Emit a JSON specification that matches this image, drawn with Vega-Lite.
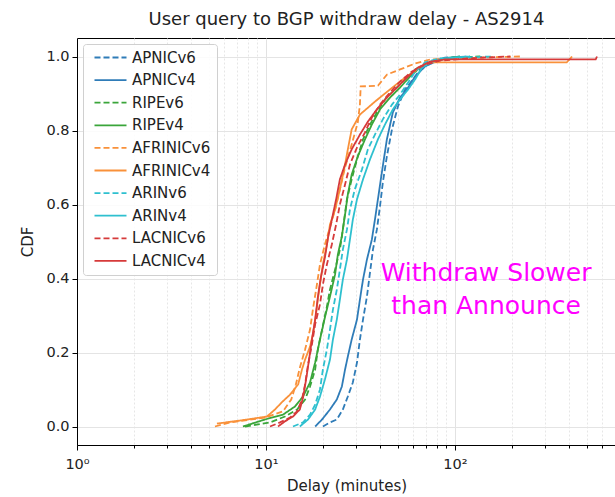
{
  "$schema": "https://vega.github.io/schema/vega-lite/v6.json",
  "autosize": {"type": "none"},
  "padding": {"left": 77, "top": 38, "right": 0, "bottom": 52},
  "width": 539,
  "height": 407,
  "background": "white",
  "title": {"text": "User query to BGP withdraw delay - AS2914", "fontSize": 18, "fontWeight": "normal", "font": "DejaVu Sans", "color": "#222", "offset": 9, "anchor": "middle"},
  "datasets": {
    "cdf": [
      {"series":"APNICv6","delay":20.0,"cdf":0},{"series":"APNICv6","delay":21.8,"cdf":0.011},{"series":"APNICv6","delay":23.7,"cdf":0.019},{"series":"APNICv6","delay":25.5,"cdf":0.046},{"series":"APNICv6","delay":27.1,"cdf":0.081},{"series":"APNICv6","delay":28.8,"cdf":0.119},{"series":"APNICv6","delay":30.3,"cdf":0.173},{"series":"APNICv6","delay":31.4,"cdf":0.235},{"series":"APNICv6","delay":32.6,"cdf":0.289},{"series":"APNICv6","delay":34.2,"cdf":0.351},{"series":"APNICv6","delay":35.5,"cdf":0.416},{"series":"APNICv6","delay":36.8,"cdf":0.478},{"series":"APNICv6","delay":38.6,"cdf":0.532},{"series":"APNICv6","delay":40.1,"cdf":0.595},{"series":"APNICv6","delay":41.5,"cdf":0.659},{"series":"APNICv6","delay":43.6,"cdf":0.730},{"series":"APNICv6","delay":46.4,"cdf":0.803},{"series":"APNICv6","delay":49.9,"cdf":0.865},{"series":"APNICv6","delay":54.4,"cdf":0.911},{"series":"APNICv6","delay":60.0,"cdf":0.938},{"series":"APNICv6","delay":65.3,"cdf":0.965},{"series":"APNICv6","delay":73.8,"cdf":0.986},{"series":"APNICv6","delay":88.5,"cdf":0.997},{"series":"APNICv6","delay":120,"cdf":1.0},
      {"series":"APNICv4","delay":18.2,"cdf":0},{"series":"APNICv4","delay":19.8,"cdf":0.019},{"series":"APNICv4","delay":21.8,"cdf":0.046},{"series":"APNICv4","delay":23.7,"cdf":0.073},{"series":"APNICv4","delay":25.2,"cdf":0.108},{"series":"APNICv4","delay":26.2,"cdf":0.154},{"series":"APNICv4","delay":27.1,"cdf":0.189},{"series":"APNICv4","delay":28.4,"cdf":0.235},{"series":"APNICv4","delay":30.3,"cdf":0.289},{"series":"APNICv4","delay":31.4,"cdf":0.343},{"series":"APNICv4","delay":32.6,"cdf":0.397},{"series":"APNICv4","delay":34.2,"cdf":0.451},{"series":"APNICv4","delay":36.3,"cdf":0.505},{"series":"APNICv4","delay":37.7,"cdf":0.559},{"series":"APNICv4","delay":39.1,"cdf":0.614},{"series":"APNICv4","delay":41.0,"cdf":0.686},{"series":"APNICv4","delay":43.6,"cdf":0.776},{"series":"APNICv4","delay":46.9,"cdf":0.849},{"series":"APNICv4","delay":51.2,"cdf":0.889},{"series":"APNICv4","delay":55.7,"cdf":0.911},{"series":"APNICv4","delay":61.5,"cdf":0.946},{"series":"APNICv4","delay":69.4,"cdf":0.973},{"series":"APNICv4","delay":83.3,"cdf":0.992},{"series":"APNICv4","delay":106,"cdf":1.0},
      {"series":"RIPEv6","delay":7.74,"cdf":0},{"series":"RIPEv6","delay":10.5,"cdf":0.011},{"series":"RIPEv6","delay":12.6,"cdf":0.027},{"series":"RIPEv6","delay":14.6,"cdf":0.046},{"series":"RIPEv6","delay":16.1,"cdf":0.073},{"series":"RIPEv6","delay":17.1,"cdf":0.108},{"series":"RIPEv6","delay":18.2,"cdf":0.154},{"series":"RIPEv6","delay":18.8,"cdf":0.208},{"series":"RIPEv6","delay":19.8,"cdf":0.262},{"series":"RIPEv6","delay":21.0,"cdf":0.324},{"series":"RIPEv6","delay":21.8,"cdf":0.370},{"series":"RIPEv6","delay":23.2,"cdf":0.424},{"series":"RIPEv6","delay":24.6,"cdf":0.478},{"series":"RIPEv6","delay":25.5,"cdf":0.532},{"series":"RIPEv6","delay":26.8,"cdf":0.614},{"series":"RIPEv6","delay":28.4,"cdf":0.668},{"series":"RIPEv6","delay":30.3,"cdf":0.722},{"series":"RIPEv6","delay":32.6,"cdf":0.776},{"series":"RIPEv6","delay":35.5,"cdf":0.816},{"series":"RIPEv6","delay":38.6,"cdf":0.849},{"series":"RIPEv6","delay":42.6,"cdf":0.884},{"series":"RIPEv6","delay":48.1,"cdf":0.911},{"series":"RIPEv6","delay":54.4,"cdf":0.938},{"series":"RIPEv6","delay":61.5,"cdf":0.965},{"series":"RIPEv6","delay":73.8,"cdf":0.986},{"series":"RIPEv6","delay":94.1,"cdf":0.997},{"series":"RIPEv6","delay":136,"cdf":1.0},
      {"series":"RIPEv4","delay":7.55,"cdf":0},{"series":"RIPEv4","delay":9.88,"cdf":0.019},{"series":"RIPEv4","delay":12.3,"cdf":0.032},{"series":"RIPEv4","delay":14.23,"cdf":0.054},{"series":"RIPEv4","delay":15.7,"cdf":0.081},{"series":"RIPEv4","delay":17.1,"cdf":0.119},{"series":"RIPEv4","delay":18.2,"cdf":0.173},{"series":"RIPEv4","delay":19.3,"cdf":0.235},{"series":"RIPEv4","delay":20.5,"cdf":0.295},{"series":"RIPEv4","delay":21.8,"cdf":0.351},{"series":"RIPEv4","delay":23.2,"cdf":0.411},{"series":"RIPEv4","delay":24.0,"cdf":0.465},{"series":"RIPEv4","delay":25.2,"cdf":0.514},{"series":"RIPEv4","delay":26.2,"cdf":0.573},{"series":"RIPEv4","delay":27.1,"cdf":0.627},{"series":"RIPEv4","delay":28.4,"cdf":0.681},{"series":"RIPEv4","delay":30.6,"cdf":0.730},{"series":"RIPEv4","delay":33.4,"cdf":0.776},{"series":"RIPEv4","delay":36.3,"cdf":0.816},{"series":"RIPEv4","delay":40.1,"cdf":0.857},{"series":"RIPEv4","delay":45.3,"cdf":0.889},{"series":"RIPEv4","delay":51.2,"cdf":0.916},{"series":"RIPEv4","delay":57.8,"cdf":0.946},{"series":"RIPEv4","delay":65.3,"cdf":0.970},{"series":"RIPEv4","delay":78.4,"cdf":0.989},{"series":"RIPEv4","delay":106,"cdf":1.0},
      {"series":"AFRINICv6","delay":5.37,"cdf":0},{"series":"AFRINICv6","delay":6.45,"cdf":0.011},{"series":"AFRINICv6","delay":9.88,"cdf":0.024},{"series":"AFRINICv6","delay":12.3,"cdf":0.041},{"series":"AFRINICv6","delay":13.6,"cdf":0.073},{"series":"AFRINICv6","delay":14.4,"cdf":0.114},{"series":"AFRINICv6","delay":15.1,"cdf":0.159},{"series":"AFRINICv6","delay":16.1,"cdf":0.208},{"series":"AFRINICv6","delay":17.1,"cdf":0.262},{"series":"AFRINICv6","delay":17.7,"cdf":0.316},{"series":"AFRINICv6","delay":18.6,"cdf":0.384},{"series":"AFRINICv6","delay":19.3,"cdf":0.438},{"series":"AFRINICv6","delay":20.5,"cdf":0.492},{"series":"AFRINICv6","delay":21.8,"cdf":0.538},{"series":"AFRINICv6","delay":23.2,"cdf":0.586},{"series":"AFRINICv6","delay":24.6,"cdf":0.641},{"series":"AFRINICv6","delay":26.2,"cdf":0.700},{"series":"AFRINICv6","delay":28.4,"cdf":0.762},{"series":"AFRINICv6","delay":30.6,"cdf":0.822},{"series":"AFRINICv6","delay":31.4,"cdf":0.870},{"series":"AFRINICv6","delay":31.7,"cdf":0.919},{"series":"AFRINICv6","delay":39.1,"cdf":0.921},{"series":"AFRINICv6","delay":43.6,"cdf":0.951},{"series":"AFRINICv6","delay":51.2,"cdf":0.965},{"series":"AFRINICv6","delay":61.5,"cdf":0.981},{"series":"AFRINICv6","delay":73.8,"cdf":0.992},{"series":"AFRINICv6","delay":136,"cdf":0.997},{"series":"AFRINICv6","delay":221,"cdf":1.0},
      {"series":"AFRINICv4","delay":5.50,"cdf":0.008},{"series":"AFRINICv4","delay":7.28,"cdf":0.016},{"series":"AFRINICv4","delay":10.12,"cdf":0.027},{"series":"AFRINICv4","delay":11.16,"cdf":0.046},{"series":"AFRINICv4","delay":12.1,"cdf":0.065},{"series":"AFRINICv4","delay":13.39,"cdf":0.086},{"series":"AFRINICv4","delay":14.8,"cdf":0.114},{"series":"AFRINICv4","delay":15.5,"cdf":0.154},{"series":"AFRINICv4","delay":16.1,"cdf":0.181},{"series":"AFRINICv4","delay":17.1,"cdf":0.216},{"series":"AFRINICv4","delay":17.7,"cdf":0.249},{"series":"AFRINICv4","delay":18.4,"cdf":0.303},{"series":"AFRINICv4","delay":18.8,"cdf":0.343},{"series":"AFRINICv4","delay":19.3,"cdf":0.384},{"series":"AFRINICv4","delay":20.0,"cdf":0.438},{"series":"AFRINICv4","delay":21.0,"cdf":0.492},{"series":"AFRINICv4","delay":21.8,"cdf":0.546},{"series":"AFRINICv4","delay":23.2,"cdf":0.586},{"series":"AFRINICv4","delay":24.6,"cdf":0.641},{"series":"AFRINICv4","delay":26.2,"cdf":0.708},{"series":"AFRINICv4","delay":27.1,"cdf":0.749},{"series":"AFRINICv4","delay":28.4,"cdf":0.803},{"series":"AFRINICv4","delay":31.4,"cdf":0.843},{"series":"AFRINICv4","delay":37.7,"cdf":0.878},{"series":"AFRINICv4","delay":45.3,"cdf":0.911},{"series":"AFRINICv4","delay":54.4,"cdf":0.943},{"series":"AFRINICv4","delay":65.3,"cdf":0.970},{"series":"AFRINICv4","delay":73.8,"cdf":0.984},{"series":"AFRINICv4","delay":390,"cdf":0.984},{"series":"AFRINICv4","delay":416,"cdf":1.0},
      {"series":"ARINv6","delay":13.89,"cdf":0},{"series":"ARINv6","delay":15.7,"cdf":0.011},{"series":"ARINv6","delay":17.1,"cdf":0.032},{"series":"ARINv6","delay":18.2,"cdf":0.059},{"series":"ARINv6","delay":19.3,"cdf":0.1},{"series":"ARINv6","delay":20.0,"cdf":0.154},{"series":"ARINv6","delay":21.0,"cdf":0.208},{"series":"ARINv6","delay":21.8,"cdf":0.262},{"series":"ARINv6","delay":22.6,"cdf":0.316},{"series":"ARINv6","delay":23.7,"cdf":0.370},{"series":"ARINv6","delay":24.6,"cdf":0.424},{"series":"ARINv6","delay":25.5,"cdf":0.478},{"series":"ARINv6","delay":26.8,"cdf":0.532},{"series":"ARINv6","delay":27.8,"cdf":0.586},{"series":"ARINv6","delay":29.5,"cdf":0.641},{"series":"ARINv6","delay":32.2,"cdf":0.695},{"series":"ARINv6","delay":34.6,"cdf":0.749},{"series":"ARINv6","delay":37.7,"cdf":0.789},{"series":"ARINv6","delay":41.5,"cdf":0.830},{"series":"ARINv6","delay":46.4,"cdf":0.870},{"series":"ARINv6","delay":51.2,"cdf":0.897},{"series":"ARINv6","delay":56.5,"cdf":0.930},{"series":"ARINv6","delay":61.5,"cdf":0.959},{"series":"ARINv6","delay":69.4,"cdf":0.984},{"series":"ARINv6","delay":83.3,"cdf":0.995},{"series":"ARINv6","delay":158,"cdf":1.0},
      {"series":"ARINv4","delay":15.1,"cdf":0},{"series":"ARINv4","delay":16.7,"cdf":0.019},{"series":"ARINv4","delay":18.2,"cdf":0.046},{"series":"ARINv4","delay":19.3,"cdf":0.081},{"series":"ARINv4","delay":20.5,"cdf":0.127},{"series":"ARINv4","delay":21.8,"cdf":0.181},{"series":"ARINv4","delay":22.6,"cdf":0.235},{"series":"ARINv4","delay":23.7,"cdf":0.289},{"series":"ARINv4","delay":24.6,"cdf":0.343},{"series":"ARINv4","delay":25.5,"cdf":0.397},{"series":"ARINv4","delay":26.8,"cdf":0.451},{"series":"ARINv4","delay":27.8,"cdf":0.505},{"series":"ARINv4","delay":28.8,"cdf":0.559},{"series":"ARINv4","delay":30.3,"cdf":0.614},{"series":"ARINv4","delay":32.6,"cdf":0.668},{"series":"ARINv4","delay":35.5,"cdf":0.722},{"series":"ARINv4","delay":39.1,"cdf":0.776},{"series":"ARINv4","delay":42.6,"cdf":0.816},{"series":"ARINv4","delay":46.9,"cdf":0.857},{"series":"ARINv4","delay":51.2,"cdf":0.884},{"series":"ARINv4","delay":56.5,"cdf":0.911},{"series":"ARINv4","delay":61.5,"cdf":0.938},{"series":"ARINv4","delay":66.9,"cdf":0.970},{"series":"ARINv4","delay":75.6,"cdf":0.986},{"series":"ARINv4","delay":94.1,"cdf":0.997},{"series":"ARINv4","delay":120,"cdf":1.0},
      {"series":"LACNICv6","delay":10.5,"cdf":0},{"series":"LACNICv6","delay":11.86,"cdf":0.011},{"series":"LACNICv6","delay":13.39,"cdf":0.024},{"series":"LACNICv6","delay":14.6,"cdf":0.041},{"series":"LACNICv6","delay":15.5,"cdf":0.073},{"series":"LACNICv6","delay":16.1,"cdf":0.114},{"series":"LACNICv6","delay":16.7,"cdf":0.168},{"series":"LACNICv6","delay":17.5,"cdf":0.222},{"series":"LACNICv6","delay":18.2,"cdf":0.276},{"series":"LACNICv6","delay":19.3,"cdf":0.330},{"series":"LACNICv6","delay":20.0,"cdf":0.384},{"series":"LACNICv6","delay":21.0,"cdf":0.438},{"series":"LACNICv6","delay":22.3,"cdf":0.492},{"series":"LACNICv6","delay":23.5,"cdf":0.546},{"series":"LACNICv6","delay":24.6,"cdf":0.600},{"series":"LACNICv6","delay":26.2,"cdf":0.654},{"series":"LACNICv6","delay":27.8,"cdf":0.708},{"series":"LACNICv6","delay":30.3,"cdf":0.754},{"series":"LACNICv6","delay":33.4,"cdf":0.795},{"series":"LACNICv6","delay":36.3,"cdf":0.835},{"series":"LACNICv6","delay":40.1,"cdf":0.870},{"series":"LACNICv6","delay":45.3,"cdf":0.903},{"series":"LACNICv6","delay":51.2,"cdf":0.932},{"series":"LACNICv6","delay":58.9,"cdf":0.959},{"series":"LACNICv6","delay":69.4,"cdf":0.978},{"series":"LACNICv6","delay":83.3,"cdf":0.989},{"series":"LACNICv6","delay":136,"cdf":0.997},{"series":"LACNICv6","delay":196,"cdf":1.0},
      {"series":"LACNICv4","delay":11.58,"cdf":0},{"series":"LACNICv4","delay":12.6,"cdf":0.014},{"series":"LACNICv4","delay":13.89,"cdf":0.027},{"series":"LACNICv4","delay":15.1,"cdf":0.046},{"series":"LACNICv4","delay":15.7,"cdf":0.078},{"series":"LACNICv4","delay":16.3,"cdf":0.127},{"series":"LACNICv4","delay":16.9,"cdf":0.181},{"series":"LACNICv4","delay":17.5,"cdf":0.235},{"series":"LACNICv4","delay":18.2,"cdf":0.289},{"series":"LACNICv4","delay":18.8,"cdf":0.349},{"series":"LACNICv4","delay":19.5,"cdf":0.403},{"series":"LACNICv4","delay":20.5,"cdf":0.457},{"series":"LACNICv4","delay":21.3,"cdf":0.511},{"series":"LACNICv4","delay":22.3,"cdf":0.559},{"series":"LACNICv4","delay":23.5,"cdf":0.614},{"series":"LACNICv4","delay":24.6,"cdf":0.668},{"series":"LACNICv4","delay":26.2,"cdf":0.708},{"series":"LACNICv4","delay":28.4,"cdf":0.749},{"series":"LACNICv4","delay":31.4,"cdf":0.789},{"series":"LACNICv4","delay":34.6,"cdf":0.824},{"series":"LACNICv4","delay":38.6,"cdf":0.857},{"series":"LACNICv4","delay":43.6,"cdf":0.889},{"series":"LACNICv4","delay":49.3,"cdf":0.916},{"series":"LACNICv4","delay":55.7,"cdf":0.943},{"series":"LACNICv4","delay":63.6,"cdf":0.970},{"series":"LACNICv4","delay":73.8,"cdf":0.986},{"series":"LACNICv4","delay":88.5,"cdf":0.992},{"series":"LACNICv4","delay":555,"cdf":0.992},{"series":"LACNICv4","delay":564,"cdf":1.0}
    ],
    "note": [{"label": "Withdraw Slower\nthan Announce", "delay": 146, "cdf": 0.416}]
  },
  "layer": [
    {
      "data": {"name": "cdf"},
      "mark": {"type": "line", "strokeWidth": 1.8, "clip": true},
      "encoding": {
        "x": {
          "field": "delay", "type": "quantitative",
          "scale": {"type": "log", "domain": [1, 711], "nice": false},
          "axis": {
            "values": [1,2,3,4,5,6,7,8,9,10,20,30,40,50,60,70,80,90,100,200,300,400,500,600,700],
            "labelExpr": "datum.value == 1 ? '10⁰' : datum.value == 10 ? '10¹' : datum.value == 100 ? '10²' : ''",
            "labelOverlap": false, "labelFlush": false, "labelPadding": 7,
            "labelFontSize": 14.5,
            "tickSize": {"condition": {"test": "datum.value == 1 || datum.value == 10 || datum.value == 100", "value": 5}, "value": 3},
            "gridDash": {"condition": {"test": "datum.value == 1 || datum.value == 10 || datum.value == 100", "value": []}, "value": [2, 2]},
            "gridColor": {"condition": {"test": "datum.value == 1 || datum.value == 10 || datum.value == 100", "value": "#e2e2e2"}, "value": "#e6e6e6"},
            "title": "Delay (minutes)", "titlePadding": 8
          }
        },
        "y": {
          "field": "cdf", "type": "quantitative",
          "scale": {"domain": [-0.05, 1.05], "nice": false, "zero": false},
          "axis": {"values": [0, 0.2, 0.4, 0.6, 0.8, 1.0], "format": ".1f", "tickSize": 5, "labelPadding": 3, "labelFontSize": 14.5, "gridColor": "#e4e4e4", "title": "CDF", "titlePadding": 10}
        },
        "color": {
          "field": "series", "type": "nominal",
          "scale": {
            "domain": ["APNICv6","APNICv4","RIPEv6","RIPEv4","AFRINICv6","AFRINICv4","ARINv6","ARINv4","LACNICv6","LACNICv4"],
            "range": ["#2f7cb8","#2f7cb8","#3aa53a","#3aa53a","#f9913a","#f9913a","#2ec0cf","#2ec0cf","#d63a3a","#d63a3a"]
          },
          "legend": {
            "title": null, "orient": "top-left", "offset": 6, "padding": 6,
            "labelFontSize": 15, "labelColor": "#222", "rowPadding": 6.6,
            "symbolType": "M-8,0H8", "symbolSize": 16, "symbolStrokeWidth": 1.8, "symbolOffset": 14, "labelOffset": 14,
            "strokeColor": "#d0d0d0", "fillColor": "rgba(255,255,255,0.85)", "cornerRadius": 3
          }
        },
        "strokeDash": {
          "field": "series", "type": "nominal",
          "scale": {
            "domain": ["APNICv6","APNICv4","RIPEv6","RIPEv4","AFRINICv6","AFRINICv4","ARINv6","ARINv4","LACNICv6","LACNICv4"],
            "range": [[6,3],[1,0],[6,3],[1,0],[6,3],[1,0],[6,3],[1,0],[6,3],[1,0]]
          }
        }
      }
    },
    {
      "data": {"name": "note"},
      "mark": {"type": "text", "font": "DejaVu Sans", "fontSize": 25, "color": "#ff00ff", "align": "center", "baseline": "middle", "lineBreak": "\n", "lineHeight": 33},
      "encoding": {
        "x": {"field": "delay", "type": "quantitative"},
        "y": {"field": "cdf", "type": "quantitative"},
        "text": {"field": "label"}
      }
    }
  ],
  "config": {
    "font": "DejaVu Sans",
    "view": {"stroke": "#000", "strokeWidth": 1},
    "axis": {
      "domainColor": "#000", "tickColor": "#000", "labelColor": "#222", "titleColor": "#222",
      "titleFontSize": 15, "titleFontWeight": "normal", "labelFont": "DejaVu Sans", "titleFont": "DejaVu Sans"
    },
    "legend": {"labelFont": "DejaVu Sans"}
  }
}
